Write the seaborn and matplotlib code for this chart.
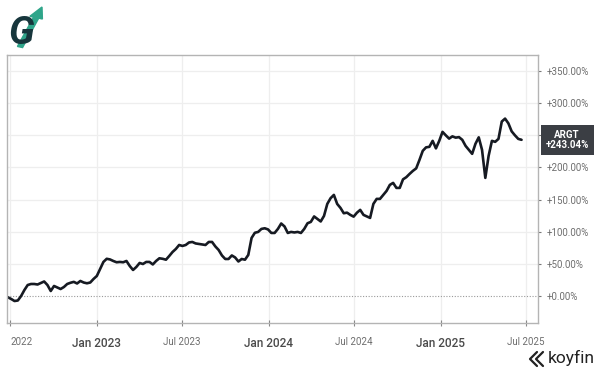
import numpy as np
import pandas as pd
import seaborn as sns
import matplotlib.pyplot as plt
from matplotlib.lines import Line2D
from matplotlib.patches import FancyArrow
from matplotlib.transforms import ScaledTranslation

# weekly cumulative return of ARGT, in percent
start_date = "2022-06-26"
returns = [
    -2.0, -4.7, -7.8, -7.0, 0.0, 9.3, 17.1, 18.7, 18.7, 17.9,
    20.2, 22.6, 17.1, 7.8, 15.6, 13.2, 10.9, 14.0, 18.7, 20.6,
    22.0, 19.5, 23.4, 21.0, 19.8, 21.0, 26.5, 31.2, 42.1, 53.0,
    57.9, 56.9, 54.5, 52.5, 53.0, 52.5, 54.5, 46.7, 40.5, 45.2,
    51.4, 49.8, 53.0, 53.0, 49.1, 54.5, 58.7, 57.9, 56.5, 62.3,
    68.5, 73.2, 79.4, 77.9, 79.4, 83.3, 84.1, 81.8, 81.0, 80.2,
    79.4, 84.1, 84.1, 77.1, 71.6, 63.1, 57.6, 57.6, 63.1, 60.0,
    53.7, 57.6, 56.5, 63.9, 90.3, 98.4, 99.7, 104.4, 105.4, 103.6,
    98.1, 98.1, 104.4, 112.8, 108.3, 98.1, 99.7, 98.9, 99.7, 98.1,
    104.4, 113.2, 115.3, 123.8, 119.9, 116.0, 124.6, 143.3, 152.2, 157.3,
    143.3, 137.1, 128.8, 129.7, 126.2, 123.5, 129.6, 134.0, 126.2, 123.8,
    121.5, 143.3, 151.1, 151.1, 157.3, 163.5, 172.9, 176.0, 168.2, 168.2,
    181.5, 184.9, 190.0, 194.7, 198.6, 211.8, 225.9, 231.3, 232.1, 241.4,
    229.7, 241.4, 255.4, 250.0, 244.9, 248.4, 246.4, 247.2, 243.0, 233.6,
    227.4, 221.2, 236.8, 246.9, 227.4, 183.8, 218.1, 241.4, 239.9, 244.5,
    271.5, 276.0, 268.7, 256.2, 250.0, 244.5, 243.04,
]
ticker = "ARGT"
last_value = returns[-1]

x_tick_dates = ["2022-07-01", "2023-01-01", "2023-07-01", "2024-01-01",
                "2024-07-01", "2025-01-01", "2025-07-01"]
x_tick_labels = ["2022", "Jan 2023", "Jul 2023", "Jan 2024",
                 "Jul 2024", "Jan 2025", "Jul 2025"]
y_ticks = [0, 50, 100, 150, 200, 250, 300, 350]

df = pd.DataFrame({
    "date": pd.date_range(start_date, periods=len(returns), freq="W-SUN"),
    "ret": returns,
})

sns.set_theme(style="white")
plt.rcParams["font.family"] = ["Roboto", "DejaVu Sans"]

fig = plt.figure(figsize=(6.02, 3.76), dpi=100)
ax = fig.add_axes([7 / 602, 53 / 376, 531 / 602, 268 / 376])

sns.lineplot(data=df, x="date", y="ret", ax=ax, color="#161a22", linewidth=1.9)

ax.set_xlim(pd.Timestamp("2022-06-24"), pd.Timestamp("2025-07-27"))
ax.set_ylim(-42, 375)

# grid
for d in x_tick_dates:
    ax.axvline(pd.Timestamp(d), color="#eeeeee", lw=0.9, zorder=0)
for v in y_ticks[1:]:
    ax.axhline(v, color="#eeeeee", lw=0.9, zorder=0)
ax.axhline(0, color="#9a9a9a", lw=0.8, ls=(0, (1, 1.5)), zorder=1)

for s in ax.spines.values():
    s.set_color("#b4b4b4")
    s.set_linewidth(1.0)

ax.set_xticks(pd.to_datetime(x_tick_dates))
ax.set_xticklabels(x_tick_labels)
for lab in ax.get_xticklabels():
    if lab.get_text().startswith("Jan"):
        lab.set_fontsize(8.5)
        lab.set_color("#4a4a4a")
        lab.set_fontweight("medium")
    else:
        lab.set_fontsize(7)
        lab.set_color("#6e6e6e")
first = ax.get_xticklabels()[0]
first.set_horizontalalignment("left")
first.set_transform(first.get_transform()
                    + ScaledTranslation(-4 / 72, 1.5 / 72, fig.dpi_scale_trans))
ax.tick_params(axis="x", direction="inout", length=4, width=0.8,
               color="#888888", pad=8, bottom=True)

ax.yaxis.tick_right()
ax.set_yticks(y_ticks)
ax.set_yticklabels([f"+{v:.2f}%" for v in y_ticks], fontsize=7, color="#6e6e6e")
ax.tick_params(axis="y", direction="out", length=2, width=0.8,
               color="#777777", pad=4, right=True)
ax.set_xlabel("")
ax.set_ylabel("")

# last value tag
tag = ax.annotate(f"{ticker}\n+{last_value:.2f}%",
                  xy=(1.0, last_value), xycoords=("axes fraction", "data"),
                  xytext=(21, 0), textcoords="offset points",
                  ha="center", va="center", multialignment="center",
                  fontsize=7, fontweight="bold",
                  color="white", linespacing=1.05, zorder=10,
                  bbox=dict(boxstyle="square,pad=0.5", fc="#3b3e44", ec="none"))
tag.set_clip_on(False)

# header logo
fig.text(8 / 602, 1 - 44 / 376, "G", fontsize=28, fontweight="bold",
         fontstyle="italic", color="#17363c")
fig.patches.append(FancyArrow(20 / 602, 1 - 47 / 376, 22 / 602, 40 / 376,
                              width=0.009, head_width=0.022, head_length=0.03,
                              color="#2fa58a", transform=fig.transFigure,
                              length_includes_head=True))

# footer brand
for dx in (0, 6):
    fig.add_artist(Line2D([(537 + dx) / 602, (530 + dx) / 602, (537 + dx) / 602],
                          [1 - 352 / 376, 1 - 359 / 376, 1 - 366 / 376],
                          transform=fig.transFigure, color="#222222", lw=1.6))
fig.text(548 / 602, 1 - 358 / 376, "koyfin", fontsize=12.5, color="#222222",
         va="center")

fig.savefig("out.png", dpi=100)
